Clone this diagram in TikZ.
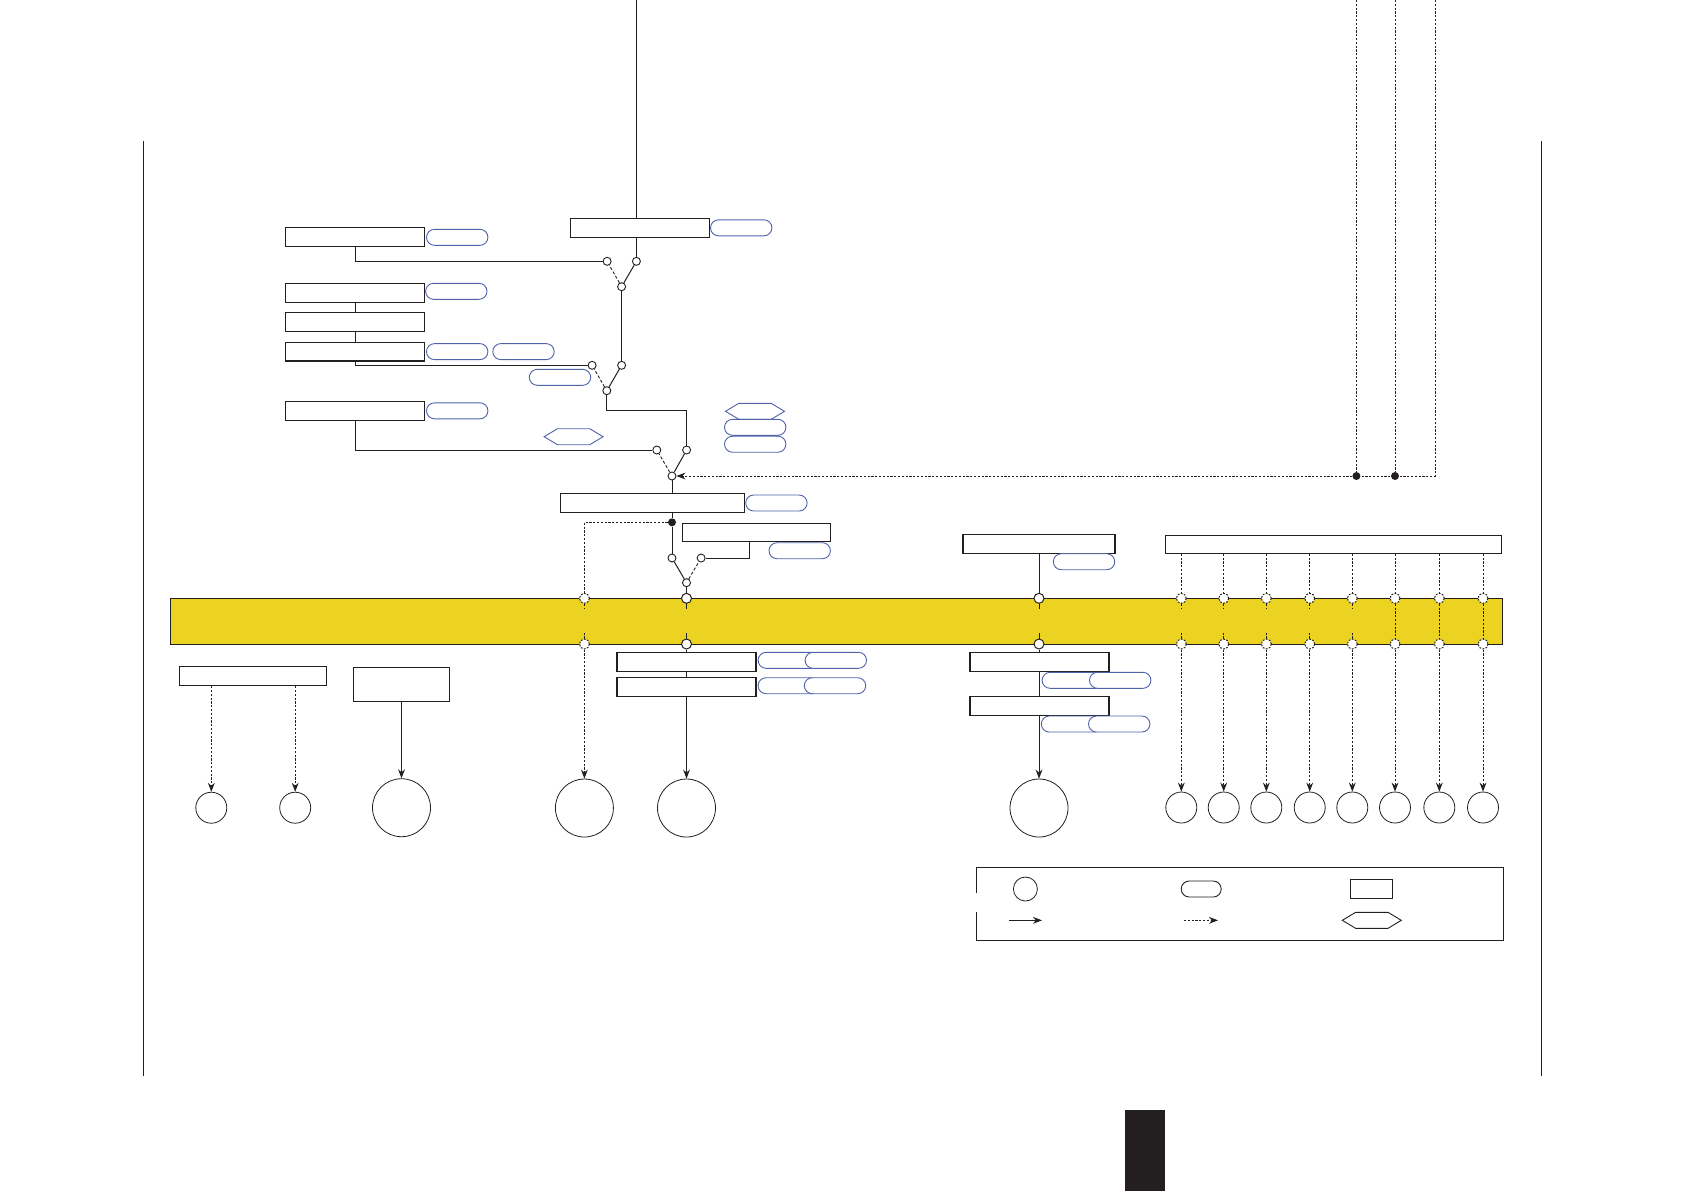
\documentclass[tikz,border=0pt]{standalone}
\usepackage{tikz}
\usetikzlibrary{arrows.meta,positioning,shapes.symbols}
\definecolor{bandyellow}{HTML}{ECD322}
\definecolor{pillblue}{HTML}{4F62AA}
\definecolor{inkblack}{HTML}{231F20}

\begin{document}
\begin{tikzpicture}[
		x=0.5pt, y=-0.5pt,
		box/.style={draw=inkblack, fill=white, line width=0.55pt, inner sep=0pt, minimum height=9.4pt, minimum width=69.5pt},
		pill/.style={draw=pillblue, fill=white, line width=0.45pt, rounded corners=3.99pt, inner sep=0pt, minimum height=8pt, minimum width=30.7pt},
		hexa/.style={draw=pillblue, fill=white, line width=0.45pt, signal, signal to=west and east, signal pointer angle=62, inner sep=0pt, minimum height=8pt, minimum width=29.5pt},
		switchpt/.style={circle, draw=inkblack, fill=white, line width=0.45pt, inner sep=0pt, minimum size=4pt},
		joint/.style={circle, fill=inkblack, inner sep=0pt, minimum size=4pt},
		port/.style={circle, draw=inkblack, fill=white, line width=0.5pt, inner sep=0pt, minimum size=5pt},
		dotport/.style={port, dash pattern=on 0.9pt off 0.7pt},
		sink/.style={circle, draw=inkblack, line width=0.4pt, inner sep=0pt, minimum size=15.5pt},
		bigsink/.style={sink, minimum size=29pt},
		wire/.style={draw=inkblack, line width=0.5pt},
		swdash/.style={draw=inkblack, line width=0.45pt, dash pattern=on 1.5pt off 1pt},
		dotwire/.style={draw=inkblack, line width=0.5pt, dash pattern=on 1.1pt off 0.8pt},
		arr/.style={wire, -{Stealth[length=4.5pt,width=3.4pt]}},
		dotarr/.style={dotwire, -{Stealth[length=4.5pt,width=3.4pt]}}
	]
	\useasboundingbox (0,0) rectangle (1684,1191);

	\draw[wire] (143.4,141) -- (143.4,1076);
	\draw[wire] (1541.2,141) -- (1541.2,1076);
	\node[fill=inkblack, inner sep=0pt, minimum width=19.9pt, minimum height=40.5pt] (tab) at (1145,1150.8) {};

	\node[draw=inkblack, fill=bandyellow, line width=0.55pt, inner sep=0pt, minimum width=666pt, minimum height=23pt] (band) at (836.5,621.3) {};

	\node[box] (topbox) at (640,227.8) {};
	\node[pill, right=0pt of topbox] (toptag) {};
	\node[box] (boxa) at (355,237.3) {};
	\node[pill, right=0.5pt of boxa] (tagA) {};
	\node[box] (boxb) at (355,292.8) {};
	\node[pill] (tagB) at (456.3,291.3) {};
	\node[box, below=4.5pt of boxb] (boxc) {};
	\node[box, below=5pt of boxc] (boxd) {};
	\node[pill, right=0.5pt of boxd] (tagD) {};
	\node[pill, right=2pt of tagD] (tagDD) {};
	\node[pill] (tagE) at (560,377.3) {};
	\node[box] (boxe) at (355,410.8) {};
	\node[pill, right=0.5pt of boxe] (tagF) {};
	\node[hexa] (hexA) at (573.6,436.7) {};
	\node[hexa] (hexB) at (755,411.3) {};
	\node[pill] (tagG) at (755.2,427.3) {};
	\node[pill, below=0pt of tagG] (tagH) {};
	\node[box, minimum width=92.2pt] (mainbox) at (652.5,503) {};
	\node[pill, right=0pt of mainbox] (tagM) {};
	\node[box, minimum width=74pt, minimum height=9pt] (sidebox) at (756.5,532.3) {};
	\node[pill] (tagS) at (799.7,550.7) {};
	\node[box, minimum width=76pt] (tapebox) at (1039,543.8) {};
	\node[pill] (tagT) at (1084,561.7) {};
	\node[box, minimum width=168.2pt, minimum height=9pt] (busbox) at (1333.5,544.3) {};

	\node[switchpt] (swAl) at (607.1,261.3) {};
	\node[switchpt] (swAr) at (636.4,261.3) {};
	\node[switchpt] (swAo) at (621.6,286.7) {};
	\node[switchpt] (swBl) at (592.1,365.3) {};
	\node[switchpt] (swBr) at (621.6,365.3) {};
	\node[switchpt] (swBo) at (606.8,390.7) {};
	\node[switchpt] (swCl) at (656.8,450) {};
	\node[switchpt] (swCr) at (686.6,450) {};
	\node[switchpt] (swCo) at (672,476) {};
	\node[joint] (jnA) at (672,522.3) {};
	\node[switchpt] (swDl) at (672,558) {};
	\node[switchpt] (swDr) at (701.1,558) {};
	\node[switchpt] (swDo) at (686.5,582.7) {};
	\node[joint] (jnB) at (1356.4,476) {};
	\node[joint] (jnC) at (1395,476) {};

	\node[dotport] (upX) at (584.4,598.3) {};
	\node[dotport] (loX) at (584.4,644) {};
	\node[port] (upY) at (686.5,598.3) {};
	\node[port] (loY) at (686.5,644) {};
	\node[port] (upZ) at (1039,598.3) {};
	\node[port] (loZ) at (1039,644) {};
	\node[dotport] (up1) at (1181.3,598.3) {};
	\node[dotport] (lo1) at (1181.3,644) {};
	\node[dotport] (up2) at (1223.7,598.3) {};
	\node[dotport] (lo2) at (1223.7,644) {};
	\node[dotport] (up3) at (1266.3,598.3) {};
	\node[dotport] (lo3) at (1266.3,644) {};
	\node[dotport] (up4) at (1309.7,598.3) {};
	\node[dotport] (lo4) at (1309.7,644) {};
	\node[dotport] (up5) at (1352.3,598.3) {};
	\node[dotport] (lo5) at (1352.3,644) {};
	\node[dotport] (up6) at (1395,598.3) {};
	\node[dotport] (lo6) at (1395,644) {};
	\node[dotport] (up7) at (1439.3,598.3) {};
	\node[dotport] (lo7) at (1439.3,644) {};
	\node[dotport] (up8) at (1483,598.3) {};
	\node[dotport] (lo8) at (1483,644) {};

	\node[box, minimum width=73.7pt, minimum height=9.7pt] (lefta) at (253,676) {};
	\node[box, minimum width=48.2pt, minimum height=17pt] (leftb) at (401.5,684.3) {};
	\node[box] (boxf) at (686.5,661.8) {};
	\node[box, below=2.6pt of boxf] (boxg) {};
	\node[pill] (tagJ) at (788.8,660.3) {};
	\node[pill] (tagK) at (835.8,660.3) {};
	\node[pill] (tagL) at (788.8,685.7) {};
	\node[pill] (tagN) at (835,685.7) {};
	\node[box] (boxh) at (1039.5,661.8) {};
	\node[box, below=12.1pt of boxh] (boxi) {};
	\node[pill] (tagP) at (1072.8,680.3) {};
	\node[pill] (tagQ) at (1120.2,680.3) {};
	\node[pill] (tagR) at (1072,724) {};
	\node[pill] (tagU) at (1119.2,724) {};

	\node[sink] (outL) at (211.3,807.7) {};
	\node[sink] (outR) at (295.2,807.7) {};
	\node[bigsink] (outS) at (401.5,807.7) {};
	\node[bigsink] (outX) at (584.4,808) {};
	\node[bigsink] (outY) at (686.5,808) {};
	\node[bigsink] (outZ) at (1039,808) {};
	\node[sink] (out1) at (1181.3,807.5) {};
	\node[sink] (out2) at (1223.7,807.5) {};
	\node[sink] (out3) at (1266.3,807.5) {};
	\node[sink] (out4) at (1309.7,807.5) {};
	\node[sink] (out5) at (1352.3,807.5) {};
	\node[sink] (out6) at (1395,807.5) {};
	\node[sink] (out7) at (1439.3,807.5) {};
	\node[sink] (out8) at (1483,807.5) {};

	\coordinate (topin) at (636.4,0);
	\coordinate (inA) at (1356.4,0);
	\coordinate (inB) at (1395,0);
	\coordinate (inC) at (1435,0);
	\coordinate (elbow) at (650,410.3);
	\path (sidebox.south) ++(-6.8,0) coordinate (sidetap);

	\draw[wire] (topin) -- (topin |- topbox.north);
	\draw[wire] (topin |- topbox.south) -- (swAr);
	\draw[wire] (boxa.south) |- (swAl.west);
	\draw[wire] (swAo) -- (swAr);
	\draw[swdash] (swAo) -- (swAl);
	\draw[wire] (swAo) -- (swBr);
	\draw[wire] (boxb.south) -- (boxc.north);
	\draw[wire] (boxc.south) -- (boxd.north);
	\draw[wire] (boxd.south) |- (swBl.west);
	\draw[wire] (swBo) -- (swBr);
	\draw[swdash] (swBo) -- (swBl);
	\draw[wire] (swBo.south) |- (elbow) -| (swCr.north);
	\draw[wire] (boxe.south) |- (swCl.west);
	\draw[wire] (swCo) -- (swCr);
	\draw[swdash] (swCo) -- (swCl);
	\draw[wire] (swCo) -- (swCo |- mainbox.north);
	\draw[wire] (swCo |- mainbox.south) -- (jnA);
	\draw[wire] (jnA) -- (swDl);
	\draw[wire] (swDo) -- (swDl);
	\draw[swdash] (swDo) -- (swDr);
	\draw[wire] (swDr.east) -| (sidetap);
	\draw[wire] (swDo) -- (upY);
	\draw[wire] (tapebox.south -| upZ) -- (upZ);

	\draw[dotwire] (inA) -- (jnB);
	\draw[dotwire] (inB) -- (jnC);
	\draw[dotarr] (inC) |- (swCo.east);
	\draw[dotwire] (jnA) -| (upX);

	\draw[wire] (upY.south) -- ++(0,5) coordinate (upY_aux);
	\draw[wire] (loY.north) -- ++(0,-6) coordinate (loY_aux);
	\draw[wire] (upZ.south) -- ++(0,5) coordinate (upZ_aux);
	\draw[wire] (loZ.north) -- ++(0,-6) coordinate (loZ_aux);
	\draw[dotwire] (upX.south) -- ++(0,5) coordinate (upX_aux);
	\draw[dotwire] (loX.north) -- ++(0,-6) coordinate (loX_aux);
	\draw[dotwire] (up1.south) -- ++(0,5) coordinate (up1_aux);
	\draw[dotwire] (lo1.north) -- ++(0,-6) coordinate (lo1_aux);
	\draw[dotwire] (up2.south) -- ++(0,5) coordinate (up2_aux);
	\draw[dotwire] (lo2.north) -- ++(0,-6) coordinate (lo2_aux);
	\draw[dotwire] (up3.south) -- ++(0,5) coordinate (up3_aux);
	\draw[dotwire] (lo3.north) -- ++(0,-6) coordinate (lo3_aux);
	\draw[dotwire] (up4.south) -- ++(0,5) coordinate (up4_aux);
	\draw[dotwire] (lo4.north) -- ++(0,-6) coordinate (lo4_aux);
	\draw[dotwire] (up5.south) -- ++(0,5) coordinate (up5_aux);
	\draw[dotwire] (lo5.north) -- ++(0,-6) coordinate (lo5_aux);
	\draw[dotwire] (up6) -- (lo6);
	\draw[dotwire] (up7) -- (lo7);
	\draw[dotwire] (up8) -- (lo8);

	\draw[wire] (loY) -- (boxf.north);
	\draw[wire] (boxf.south) -- (boxg.north);
	\draw[arr] (boxg.south) -- (outY);
	\draw[wire] (loZ) -- (loZ |- boxh.north);
	\draw[wire] (loZ |- boxh.south) -- (loZ |- boxi.north);
	\draw[arr] (loZ |- boxi.south) -- (outZ);
	\draw[dotarr] (loX) -- (outX);
	\draw[dotarr] (lefta.south -| outL) -- (outL);
	\draw[dotarr] (lefta.south -| outR) -- (outR);
	\draw[arr] (leftb.south) -- (outS);

	\draw[dotwire] (busbox.south -| up1) -- (up1);
	\draw[dotwire] (busbox.south -| up2) -- (up2);
	\draw[dotwire] (busbox.south -| up3) -- (up3);
	\draw[dotwire] (busbox.south -| up4) -- (up4);
	\draw[dotwire] (busbox.south -| up5) -- (up5);
	\draw[dotwire] (busbox.south -| up6) -- (up6);
	\draw[dotwire] (busbox.south -| up7) -- (up7);
	\draw[dotwire] (busbox.south -| up8) -- (up8);
	\draw[dotarr] (lo1) -- (out1);
	\draw[dotarr] (lo2) -- (out2);
	\draw[dotarr] (lo3) -- (out3);
	\draw[dotarr] (lo4) -- (out4);
	\draw[dotarr] (lo5) -- (out5);
	\draw[dotarr] (lo6) -- (out6);
	\draw[dotarr] (lo7) -- (out7);
	\draw[dotarr] (lo8) -- (out8);

	\draw[wire] (976.4,892.7) -- (976.4,867.3) -- (1503.6,867.3) -- (1503.6,940.3) -- (976.4,940.3) -- (976.4,912);
	\node[sink, minimum size=12pt] (keysink) at (1025.4,889) {};
	\node[pill, draw=inkblack, minimum width=20pt] (keypill) at (1201.2,889) {};
	\node[box, minimum width=21pt] (keybox) at (1371.5,889) {};
	\node[hexa, draw=inkblack] (keyhex) at (1371.8,920.3) {};
	\coordinate (keyA) at (1009,920.3);
	\coordinate (keyB) at (1042,920.3);
	\coordinate (keyC) at (1184,920.3);
	\coordinate (keyD) at (1218,920.3);
	\draw[arr] (keyA) -- (keyB);
	\draw[dotarr] (keyC) -- (keyD);
\end{tikzpicture}
\end{document}
